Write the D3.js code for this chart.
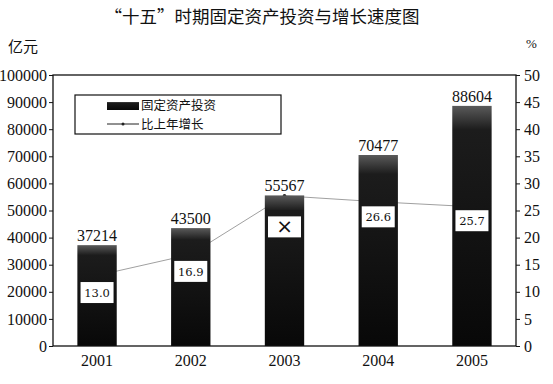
<!DOCTYPE html>
<html>
<head>
<meta charset="utf-8">
<script src="https://cdn.jsdelivr.net/npm/d3@7/dist/d3.min.js"></script>
<style>
  body { margin: 0; background: #fff; }
  text { fill: #111; }
</style>
</head>
<body>
<div id="chart"></div>
<script>
// data
var years = ["2001", "2002", "2003", "2004", "2005"];
var investment = [37214, 43500, 55567, 70477, 88604];
var growth = [13.0, 16.9, 27.7, 26.6, 25.7];
var growthLabels = ["13.0", "16.9", "×", "26.6", "25.7"];
var leftTicks = [0, 10000, 20000, 30000, 40000, 50000, 60000, 70000, 80000, 90000, 100000];
var rightTicks = [0, 5, 10, 15, 20, 25, 30, 35, 40, 45, 50];

var W = 553, H = 384;
var margin = {left: 53, right: 37, top: 75, bottom: 38};
var SERIF = "'DejaVu Serif', 'Liberation Serif', serif";
var NUMF = "'Liberation Serif', 'Times New Roman', 'DejaVu Serif', serif";
var CJK = "'Noto Sans CJK SC', sans-serif";

var svg = d3.select("#chart").append("svg")
    .attr("width", W)
    .attr("height", H);

// bar gradient
var grad = svg.append("defs").append("linearGradient")
    .attr("id", "barGrad")
    .attr("x1", 0).attr("y1", 0).attr("x2", 0).attr("y2", 1);
grad.append("stop").attr("offset", "0%").attr("stop-color", "#5a5a5a");
grad.append("stop").attr("offset", "10%").attr("stop-color", "#1c1c1c");
grad.append("stop").attr("offset", "100%").attr("stop-color", "#080808");

var x = d3.scaleBand()
    .domain(years)
    .range([margin.left, W - margin.right])
    .paddingInner(0.58)
    .paddingOuter(0.26);

var yL = d3.scaleLinear().domain([0, 100000]).range([H - margin.bottom, margin.top]);
var yR = d3.scaleLinear().domain([0, 50]).range([H - margin.bottom, margin.top]);

// title
svg.append("text")
    .attr("x", 262)
    .attr("y", 23)
    .attr("text-anchor", "middle")
    .attr("font-family", CJK)
    .attr("font-size", 17.5)
    .text("“十五”时期固定资产投资与增长速度图");

svg.append("text")
    .attr("x", 8)
    .attr("y", 52)
    .attr("font-family", CJK)
    .attr("font-size", 15)
    .text("亿元");

svg.append("text")
    .attr("x", 526)
    .attr("y", 48)
    .attr("font-family", NUMF)
    .attr("font-size", 13)
    .text("%");

// growth line (behind bars)
var line = d3.line()
    .x(function(d, i) { return x(years[i]) + x.bandwidth() / 2; })
    .y(function(d) { return yR(d); });

svg.append("path")
    .datum(growth)
    .attr("d", line)
    .attr("fill", "none")
    .attr("stroke", "#a0a0a0")
    .attr("stroke-width", 1);

svg.selectAll(".pt")
    .data(growth)
    .enter().append("circle")
    .attr("class", "pt")
    .attr("cx", function(d, i) { return x(years[i]) + x.bandwidth() / 2; })
    .attr("cy", function(d) { return yR(d); })
    .attr("r", 1.8)
    .attr("fill", "#222");

// bars
svg.selectAll(".bar")
    .data(investment)
    .enter().append("rect")
    .attr("class", "bar")
    .attr("x", function(d, i) { return x(years[i]); })
    .attr("y", function(d) { return yL(d); })
    .attr("width", x.bandwidth())
    .attr("height", function(d) { return yL(0) - yL(d); })
    .attr("fill", "url(#barGrad)");

// value labels over bars
svg.selectAll(".vlab")
    .data(investment)
    .enter().append("text")
    .attr("class", "vlab")
    .attr("x", function(d, i) { return x(years[i]) + x.bandwidth() / 2; })
    .attr("y", function(d) { return yL(d) - 4; })
    .attr("text-anchor", "middle")
    .attr("font-family", NUMF)
    .attr("font-size", 16)
    .text(function(d) { return d; });

// growth boxes, sitting a bit under the line
var boxDy = [17, 17, 31, 15, 14];
var boxes = svg.selectAll(".gbox")
    .data(growth)
    .enter().append("g")
    .attr("class", "gbox")
    .attr("transform", function(d, i) {
        return "translate(" + (x(years[i]) + x.bandwidth() / 2) + "," + (yR(d) + boxDy[i]) + ")";
    });

boxes.append("rect")
    .attr("x", -16.5)
    .attr("y", -10.5)
    .attr("width", 33)
    .attr("height", 21)
    .attr("fill", "#fff");

boxes.append("text")
    .attr("text-anchor", "middle")
    .attr("y", function(d, i) { return i == 2 ? 6.5 : 4.5; })
    .attr("font-family", function(d, i) { return i == 2 ? "'DejaVu Sans', sans-serif" : SERIF; })
    .attr("font-size", function(d, i) { return i == 2 ? 20 : 11.5; })
    .text(function(d, i) { return growthLabels[i]; });

// frame
svg.append("rect")
    .attr("x", margin.left)
    .attr("y", margin.top)
    .attr("width", W - margin.left - margin.right)
    .attr("height", H - margin.top - margin.bottom)
    .attr("fill", "none")
    .attr("stroke", "#111")
    .attr("stroke-width", 1.3);

// axes
var leftAxis = svg.append("g")
    .attr("transform", "translate(" + margin.left + ",0)")
    .call(d3.axisLeft(yL).tickValues(leftTicks).tickSize(4).tickPadding(2).tickFormat(d3.format("d")));

var rightAxis = svg.append("g")
    .attr("transform", "translate(" + (W - margin.right) + ",0)")
    .call(d3.axisRight(yR).tickValues(rightTicks).tickSize(4).tickPadding(4));

var bottomAxis = svg.append("g")
    .attr("transform", "translate(0," + (H - margin.bottom) + ")")
    .call(d3.axisBottom(x).tickSize(0).tickPadding(9));

[leftAxis, rightAxis, bottomAxis].forEach(function(a) {
    a.attr("font-family", NUMF).attr("font-size", 16);
    a.select(".domain").remove();
    a.selectAll("line").attr("stroke", "#111");
    a.selectAll("text").attr("fill", "#111");
});

// legend
var lg = svg.append("g");
lg.append("rect")
    .attr("x", 75).attr("y", 95)
    .attr("width", 206).attr("height", 39)
    .attr("fill", "#fff")
    .attr("stroke", "#111")
    .attr("stroke-width", 1.2);
lg.append("rect")
    .attr("x", 107).attr("y", 102)
    .attr("width", 32).attr("height", 8)
    .attr("fill", "url(#barGrad)");
lg.append("line")
    .attr("x1", 107).attr("x2", 139)
    .attr("y1", 124).attr("y2", 124)
    .attr("stroke", "#222");
lg.append("circle")
    .attr("cx", 123).attr("cy", 124).attr("r", 1.5)
    .attr("fill", "#222");
lg.append("text")
    .attr("x", 141).attr("y", 110)
    .attr("font-family", CJK)
    .attr("font-size", 12.5)
    .text("固定资产投资");
lg.append("text")
    .attr("x", 141).attr("y", 129)
    .attr("font-family", CJK)
    .attr("font-size", 12.5)
    .text("比上年增长");
</script>
</body>
</html>
